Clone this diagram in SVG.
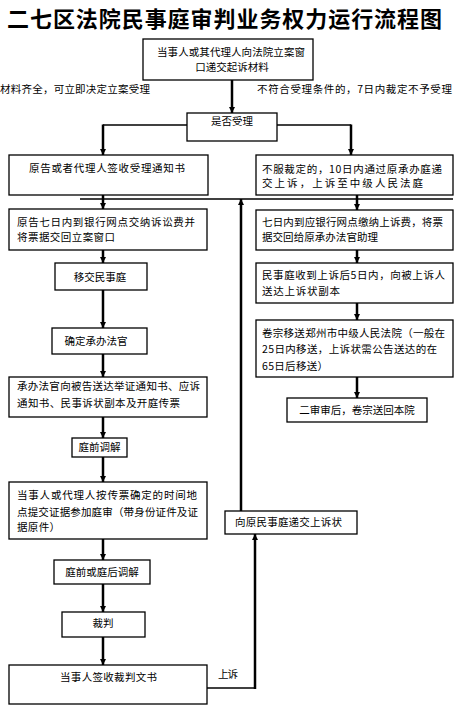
<svg xmlns="http://www.w3.org/2000/svg" width="454" height="706" viewBox="0 0 454 706">
<defs>
<style>
.t{font-family:"Noto Sans CJK SC","Liberation Sans",sans-serif;font-size:10.5px;fill:#000}
.c{text-anchor:middle}
.title{font-family:"Noto Sans CJK SC","Liberation Sans",sans-serif;font-size:22px;font-weight:bold;fill:#000}
.box{fill:#fff;stroke:#000;stroke-width:1.3}
.ln{fill:none;stroke:#000;stroke-width:1.3}
.ar{fill:none;stroke:#000;stroke-width:2.5}
</style>
<marker id="ah" viewBox="0 0 10 10" refX="10" refY="5" markerUnits="userSpaceOnUse" markerWidth="6" markerHeight="7" orient="auto">
<path d="M0,0 L10,5 L0,10 z" fill="#000"/>
</marker>
</defs>
<rect width="454" height="706" fill="#fff"/>
<text class="title" x="7" y="27" textLength="435" lengthAdjust="spacing">二七区法院民事庭审判业务权力运行流程图</text>

<g id="connectors">
<path class="ar" d="M232,80 V113" marker-end="url(#ah)"/>
<path class="ln" d="M187,125 H103"/>
<path class="ar" d="M103,124.5 V155" marker-end="url(#ah)"/>
<path class="ln" d="M277,125 H351"/>
<path class="ar" d="M351,124.5 V155" marker-end="url(#ah)"/>
<path class="ln" d="M80,199 H453"/>
<path class="ar" d="M103,195 V209" marker-end="url(#ah)"/>
<path class="ar" d="M357,195 V210" marker-end="url(#ah)"/>
<path class="ar" d="M241,511 V199" marker-end="url(#ah)"/>
<path class="ar" d="M103,250 V263" marker-end="url(#ah)"/>
<path class="ar" d="M103,290 V328" marker-end="url(#ah)"/>
<path class="ar" d="M103,354 V377" marker-end="url(#ah)"/>
<path class="ar" d="M103,417 V438" marker-end="url(#ah)"/>
<path class="ar" d="M103,457 V482" marker-end="url(#ah)"/>
<path class="ar" d="M103,539 V560" marker-end="url(#ah)"/>
<path class="ar" d="M103,584 V612" marker-end="url(#ah)"/>
<path class="ar" d="M103,637 V665" marker-end="url(#ah)"/>
<path class="ar" d="M357,250 V263" marker-end="url(#ah)"/>
<path class="ar" d="M357,303 V320" marker-end="url(#ah)"/>
<path class="ar" d="M357,377 V398" marker-end="url(#ah)"/>
<path class="ln" d="M207,688 H255"/>
<path class="ar" d="M255,689 V534" marker-end="url(#ah)"/>
<text class="t" x="0" y="93" textLength="150" lengthAdjust="spacing">材料齐全，可立即决定立案受理</text>
<text class="t" x="257" y="93" textLength="195" lengthAdjust="spacing">不符合受理条件的，7日内裁定不予受理</text>
<text class="t" x="218" y="678" textLength="20" lengthAdjust="spacing">上诉</text>
</g>

<g id="n1">
<rect class="box" x="143" y="39" width="170" height="41"/>
<text class="t" x="157" y="56" textLength="148" lengthAdjust="spacing">当事人或其代理人向法院立案窗</text>
<text class="t c" x="232" y="71">口递交起诉材料</text>
</g>
<g id="n2">
<rect class="box" x="187" y="113" width="90" height="28"/>
<text class="t c" x="232" y="125">是否受理</text>
</g>
<g id="n3">
<rect class="box" x="9" y="155" width="199" height="40"/>
<text class="t" x="29" y="172" textLength="156" lengthAdjust="spacing">原告或者代理人签收受理通知书</text>
</g>
<g id="n4">
<rect class="box" x="256" y="155" width="197" height="40"/>
<text class="t" x="262" y="173" textLength="180" lengthAdjust="spacing">不服裁定的，10日内通过原承办庭递</text>
<text class="t" x="262" y="187" textLength="161" lengthAdjust="spacing">交上诉，上诉至中级人民法庭</text>
</g>
<g id="n5">
<rect class="box" x="9" y="209" width="198" height="41"/>
<text class="t" x="17" y="226" textLength="178" lengthAdjust="spacing">原告七日内到银行网点交纳诉讼费并</text>
<text class="t" x="17" y="241" textLength="98" lengthAdjust="spacing">将票据交回立案窗口</text>
</g>
<g id="n6">
<rect class="box" x="256" y="210" width="197" height="40"/>
<text class="t" x="262" y="226" textLength="181" lengthAdjust="spacing">七日内到应银行网点缴纳上诉费，将票</text>
<text class="t" x="262" y="241" textLength="116" lengthAdjust="spacing">据交回给原承办法官助理</text>
</g>
<g id="n7">
<rect class="box" x="55" y="263" width="92" height="27"/>
<text class="t c" x="100" y="281">移交民事庭</text>
</g>
<g id="n8">
<rect class="box" x="256" y="263" width="197" height="40"/>
<text class="t" x="262" y="279" textLength="183" lengthAdjust="spacing">民事庭收到上诉后5日内，向被上诉人</text>
<text class="t" x="262" y="295" textLength="78" lengthAdjust="spacing">送达上诉状副本</text>
</g>
<g id="n9">
<rect class="box" x="52" y="328" width="95" height="26"/>
<text class="t c" x="96" y="345">确定承办法官</text>
</g>
<g id="n10">
<rect class="box" x="256" y="320" width="197" height="57"/>
<text class="t" x="262" y="337" textLength="183" lengthAdjust="spacing">卷宗移送郑州市中级人民法院（一般在</text>
<text class="t" x="262" y="353" textLength="175" lengthAdjust="spacing">25日内移送，上诉状需公告送达的在</text>
<text class="t" x="262" y="370" textLength="66" lengthAdjust="spacing">65日后移送）</text>
</g>
<g id="n11">
<rect class="box" x="287" y="398" width="140" height="24"/>
<text class="t c" x="357" y="414">二审审后，卷宗送回本院</text>
</g>
<g id="n12">
<rect class="box" x="9" y="377" width="198" height="40"/>
<text class="t" x="17" y="390" textLength="183" lengthAdjust="spacing">承办法官向被告送达举证通知书、应诉</text>
<text class="t" x="17" y="407" textLength="163" lengthAdjust="spacing">通知书、民事诉状副本及开庭传票</text>
</g>
<g id="n13">
<rect class="box" x="72" y="438" width="55" height="19"/>
<text class="t c" x="99.5" y="451">庭前调解</text>
</g>
<g id="n14">
<rect class="box" x="9" y="482" width="198" height="57"/>
<text class="t" x="17" y="499" textLength="180" lengthAdjust="spacing">当事人或代理人按传票确定的时间地</text>
<text class="t" x="17" y="516" textLength="181" lengthAdjust="spacing">点提交证据参加庭审（带身份证件及证</text>
<text class="t" x="17" y="531" textLength="43" lengthAdjust="spacing">据原件）</text>
</g>
<g id="n15">
<rect class="box" x="225" y="511" width="132" height="23"/>
<text class="t" x="235" y="526" textLength="107" lengthAdjust="spacing">向原民事庭递交上诉状</text>
</g>
<g id="n16">
<rect class="box" x="54" y="560" width="96" height="24"/>
<text class="t c" x="102" y="576">庭前或庭后调解</text>
</g>
<g id="n17">
<rect class="box" x="62" y="612" width="83" height="25"/>
<text class="t c" x="103" y="627">裁判</text>
</g>
<g id="n18">
<rect class="box" x="9" y="665" width="198" height="39"/>
<text class="t" x="60" y="681" textLength="97" lengthAdjust="spacing">当事人签收裁判文书</text>
</g>
</svg>
